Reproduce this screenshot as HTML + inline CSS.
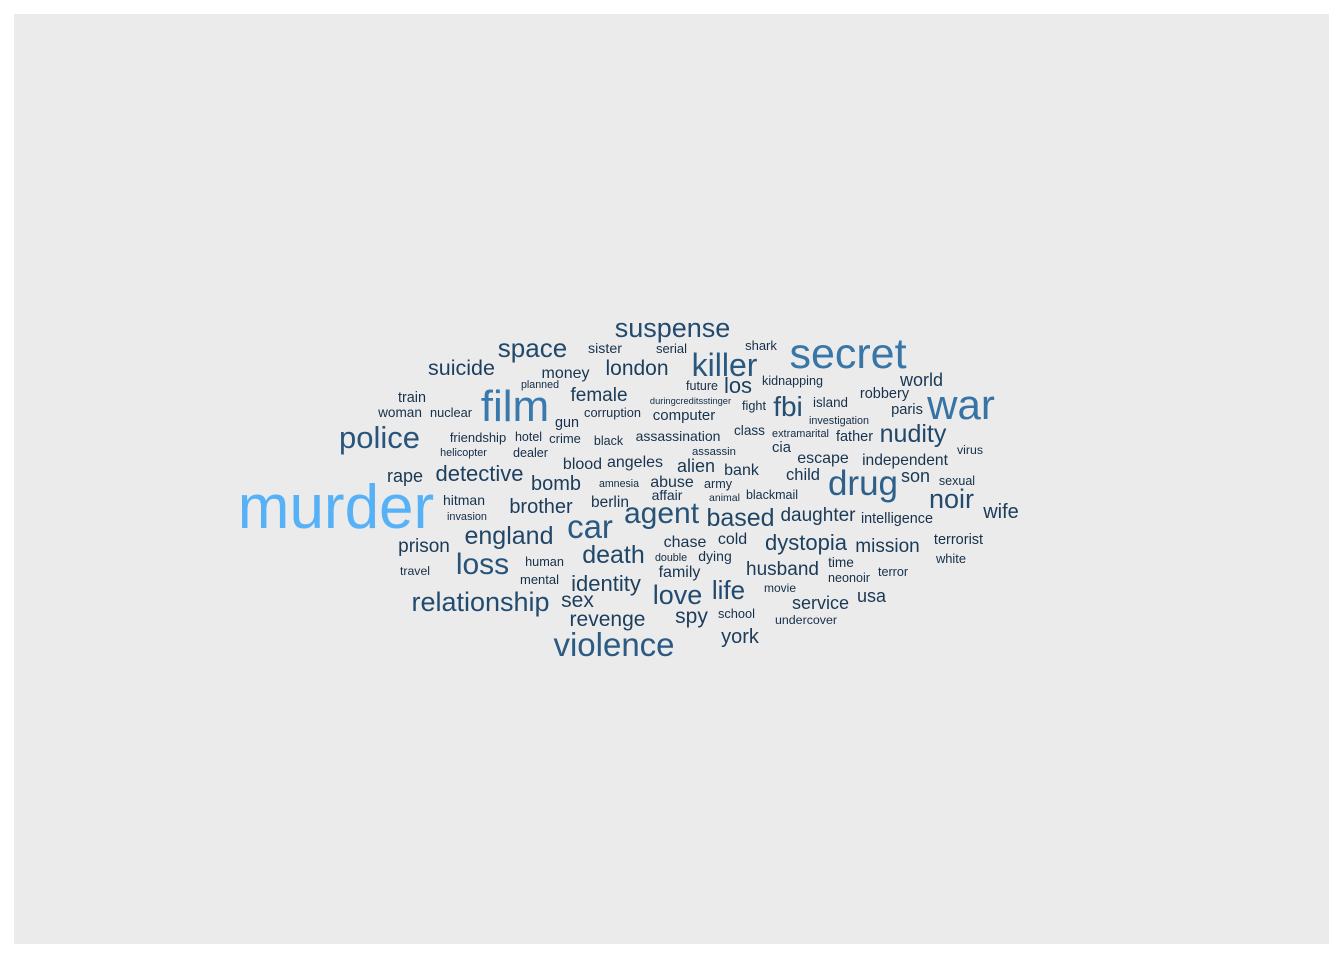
<!DOCTYPE html>
<html><head><meta charset="utf-8"><style>
html,body{margin:0;padding:0;background:#fff;}
svg{display:block;}
text{font-family:"Liberation Sans",Arial,sans-serif;}
</style></head><body>
<svg id="chart" width="1344" height="960" viewBox="0 0 1344 960" xmlns="http://www.w3.org/2000/svg">
<rect x="14" y="14" width="1315" height="930" fill="#EBEBEB"/>
<g id="words"></g>
</svg>
<script>
const words = ["murder","secret","war","film","drug","killer","car","agent","violence","police","relationship","suspense","space","loss","love","life","nudity","noir","fbi","based","england","death","detective","identity","dystopia","london","suicide","revenge","female","husband","mission","daughter","brother","bomb","sex","spy","york","wife","world","prison","rape","alien","son","usa","service","money","los","angeles","independent","escape","abuse","bank","child","blood","berlin","assassination","computer","chase","cold","family","dying","father","robbery","paris","terrorist","intelligence","friendship","hitman","train","woman","nuclear","corruption","gun","hotel","crime","black","dealer","helicopter","invasion","travel","human","mental","amnesia","affair","army","animal","blackmail","assassin","cia","class","extramarital","investigation","island","fight","duringcreditsstinger","future","kidnapping","shark","serial","sister","planned","virus","sexual","white","terror","time","neonoir","movie","double","school","undercover"];
const sizes = [62,43,42,44,35,32,33,30,33,31,27,27,26,30,27,26,25,27,28,25,25,25,22,22,22,21,21.5,21,19,19,19,19,20,20,21,21,20,20,18,19,18,18,18,18,18,16,22,16,15.6,16,16,16,16.5,16,15.5,14,15,16,16,16,14,14.5,14.5,14.7,14.5,14.4,13,14,14.4,13.6,12.8,12.8,14.4,12.5,13,12.5,12.6,10.8,10.9,12.3,12.7,13,10.6,14,12.6,10.5,12.5,11.3,14.8,13.6,10.9,10.8,13.4,12.7,9.3,12.5,12.6,13,13,14.2,10.7,12.3,12.5,12.9,12.6,13.7,12.6,12,10.7,12.8,12.4];
const posX = [336,848,961,515,863,724.5,590,661.5,614,379.5,480.5,672.5,532.5,482.5,677.5,728.5,913,951.5,788,740.5,509,613.5,479.5,606,806,637,461.5,607.5,599,782.5,887.5,818,541,556,577.5,691.5,740,1001,921.5,424,405,696,915.5,871.5,820.5,565.5,738,635,905,823,672,741.5,803,582.5,610,678,684,685,732.5,679.5,715,854.5,884.5,907,958.5,897,478,464,412,400,451,612.5,567,528.5,565,608.5,530.5,463.5,467,415,544.5,539.5,619,667,718,724.5,772,714,781.5,749.5,800.5,839,830.5,754,690.5,702,792.5,761,671.5,605,540,970,957,951,893,841,849,780,671,736.5,806];
const posY = [528,368,419,421,495,376,538,523,656,448,611,337,357,574,604,599,442,508,416,526,544,563,481,591,550,375,375,626,401,575,552,521,513,490,607,623,643,518,386,552,482,472,482,602,609,378,393,467,465,463,487,475,480,469,507,441,420,547,544,577,561,441,398,414,544,523,442,505,402,417,417,417,427,441,443,445,457,456,520,575,566,584,487,500,488,501,499,455,452,435,437,424,407,410,404,390,385,350,353,353,388,454,485,563,576,567,582,592,561,618,624];
const lo=[19,43,67], hi=[86,177,247];
const smin=9.3, smax=62;
const g=document.getElementById('words');
const NS="http://www.w3.org/2000/svg";
for(let i=0;i<words.length;i++){
  let t=Math.max(0,Math.min(1,(sizes[i]-smin)/(smax-smin)));
  t=Math.pow(t,1.3);
  const c=lo.map((v,k)=>Math.round(v+(hi[k]-v)*t));
  const el=document.createElementNS(NS,'text');
  
  
  el.setAttribute('x',posX[i]);
  el.setAttribute('y',posY[i]);
  el.setAttribute('text-anchor','middle');
  el.setAttribute('font-size',sizes[i]);
  el.setAttribute('fill','rgb('+c.join(',')+')');
  el.textContent=words[i];
  g.appendChild(el);
}
</script>
</body></html>
